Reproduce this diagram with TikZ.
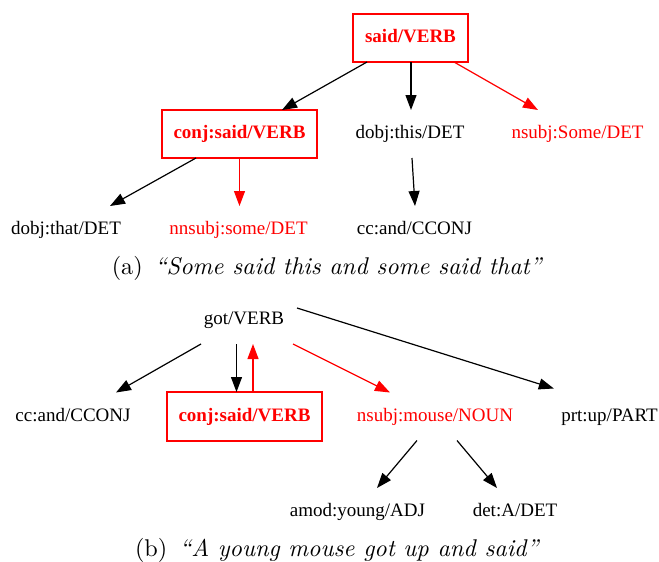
\documentclass[tikz,border=0pt]{standalone}
\usepackage{fontspec}
\newfontfamily\gvfont{Liberation Serif}
\usetikzlibrary{arrows.meta}
\definecolor{gvred}{RGB}{255,0,0}

\begin{document}
\begin{tikzpicture}[x=1pt,y=-1pt,
  every node/.style={inner sep=0pt, outer sep=0pt},
  lbl/.style={font=\gvfont\fontsize{19}{22}\selectfont, minimum height=48pt,
              text height=13pt, text depth=4pt},
  hl/.style={text=gvred},
  box/.style={lbl, draw=gvred, line width=1.4pt, text=gvred,
              font=\gvfont\bfseries\fontsize{19}{22}\selectfont, minimum width=155pt},
  conn/.style={-{Triangle[length=15pt,width=11pt]}, line width=1.2pt},
  rconn/.style={conn, color=gvred},
  subcap/.style={scale=2.42}
]
\useasboundingbox (0,0) rectangle (659,562);

% ---------- (a) Some said this and some said that ----------
\node[box, minimum width=115pt] (said) at (410.5,38) {said/VERB};
\node[box] (conjA) at (239.5,134) {conj:said/VERB};
\node[lbl] (this) at (410,134) {dobj:this/DET};
\node[lbl, hl] (Some) at (577.5,134) {nsubj:Some/DET};
\node[lbl] (that) at (66,230) {dobj:that/DET};
\node[lbl, hl] (nnsubj) at (238.5,230) {nnsubj:some/DET};
\node[lbl] (ccA) at (414.5,230) {cc:and/CCONJ};

\draw[conn] ([xshift=-43.5pt]said.south) -- ([xshift=42.5pt]conjA.north);
\draw[conn] ([xshift=0.5pt]said.south) -- ([xshift=1pt]this.north);
\draw[rconn] ([xshift=43.5pt]said.south) -- ([xshift=-39.5pt]Some.north);
\draw[conn] ([xshift=-43.5pt]conjA.south) -- ([xshift=44pt]that.north);
\draw[rconn] (conjA.south) -- ([xshift=1pt]nnsubj.north);
\draw[conn] ([xshift=2pt]this.south) -- ([xshift=0.5pt]ccA.north);

\node[subcap] (capA) at (327.5,268)
  {\fontsize{10}{12}\selectfont (a)\enspace\textit{“Some said this and some said that”}};

% ---------- (b) A young mouse got up and said ----------
\node[lbl] (got) at (244,320) {got/VERB};
\node[lbl] (ccB) at (73,416.5) {cc:and/CCONJ};
\node[box, minimum height=49pt] (conjB) at (244.5,416.5) {conj:said/VERB};
\node[lbl, hl] (mouse) at (435,416.5) {nsubj:mouse/NOUN};
\node[lbl] (prt) at (609.5,416.5) {prt:up/PART};
\node[lbl] (amod) at (357.5,512) {amod:young/ADJ};
\node[lbl] (det) at (515,512) {det:A/DET};

\draw[conn] ([xshift=-43pt]got.south) -- ([xshift=43pt]ccB.north);
\draw[conn] ([xshift=-7.5pt]got.south) -- ([xshift=-8pt]conjB.north);
\draw[rconn] ([xshift=8.5pt]conjB.north) -- ([xshift=9pt]got.south);
\draw[rconn] ([xshift=49pt]got.south) -- ([xshift=-45pt]mouse.north);
\draw[conn] ([shift={(53pt,12pt)}]got.center) -- ([shift={(-7.5pt,4pt)}]prt.north west);
\draw[conn] ([xshift=-18pt]mouse.south) -- ([xshift=19.5pt]amod.north);
\draw[conn] ([xshift=22pt]mouse.south) -- ([xshift=-18pt]det.north);

\node[subcap] (capB) at (337.5,550)
  {\fontsize{10}{12}\selectfont (b)\enspace\textit{“A young mouse got up and said”}};
\end{tikzpicture}
\end{document}
